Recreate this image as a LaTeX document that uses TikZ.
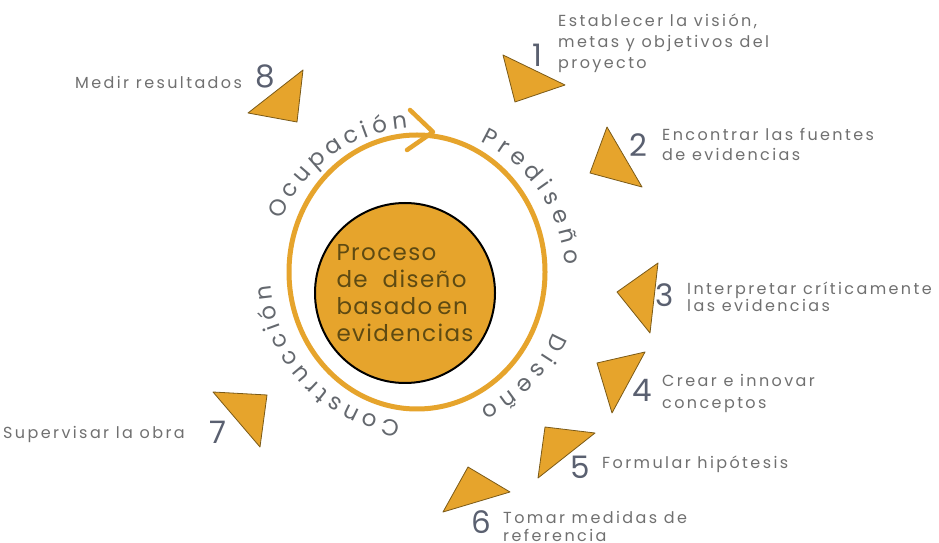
\documentclass[tikz,border=0pt]{standalone}
\usepackage{fontspec}
\setmainfont{Poppins}
\newfontfamily\labfont[LetterSpace=15]{Poppins}
\newfontfamily\ringfontfam{Poppins}
\newfontfamily\midfont[LetterSpace=6]{Poppins}
\usetikzlibrary{decorations.text}
\definecolor{gold}{HTML}{E6A42C}
\definecolor{goldedge}{HTML}{7A5A18}
\definecolor{labgrey}{HTML}{707070}
\definecolor{numgrey}{HTML}{5A6070}
\definecolor{midtext}{HTML}{5E4A12}
\definecolor{ringtext}{HTML}{64686E}
\tikzset{
  tri/.style={fill=gold, draw=goldedge, line width=0.8pt, line join=round},
  num/.style={text=numgrey, font=\fontsize{31}{31}\selectfont, inner sep=0pt},
  lab/.style={text=labgrey, font=\labfont\fontsize{16}{20}\selectfont, inner sep=0pt, anchor=north west, align=left},
  ringlab/.style={decorate, decoration={text along path, text align={fit to path}}},
}
\newcommand{\ringfmt}{\ringfontfam\fontsize{23}{23}\selectfont\color{ringtext}}
\begin{document}
\begin{tikzpicture}[x=1pt,y=1pt]
\useasboundingbox[fill=white] (0,0) rectangle (939,543);
% ring
\draw[gold, line width=5pt] (417,271) ellipse [x radius=128, y radius=137];
\draw[gold, line width=4.5pt, line cap=round, line join=round] (410,433) -- (433,411) -- (407,393);
% centre
\node[circle, minimum size=180pt, fill=gold, draw=black, line width=2pt, align=left, text=midtext,
      font=\midfont\fontsize{23}{27}\selectfont, inner sep=0pt] (centre) at (405,250)
  {Proceso\\\makebox[130pt][s]{de diseño}\\\makebox[130pt][s]{basado en}\\evidencias};
% ring labels
\path[ringlab, decoration={text={|\ringfmt|Ocupación}}]
  (418,268) ++(158:147) arc[start angle=158, end angle=94, radius=147];
\path[ringlab, decoration={text={|\ringfmt|Prediseño}}]
  (418,268) ++(65:147) arc[start angle=65, end angle=4, radius=147];
\path[ringlab, decoration={text={|\ringfmt|Diseño}}]
  (418,268) ++(-23:147) arc[start angle=-23, end angle=-65, radius=147];
\path[ringlab, decoration={text={|\ringfmt|Construcción}}]
  (418,268) ++(263:147) arc[start angle=263, end angle=184, radius=147];
% triangles
\draw[tri] (503,488) -- (565,458) -- (515,441) -- cycle;
\draw[tri] (607,416) -- (642,356) -- (590,370) -- cycle;
\draw[tri] (658,280) -- (650,210) -- (617,251) -- cycle;
\draw[tri] (645,191) -- (597,180) -- (612,130) -- cycle;
\draw[tri] (545,116) -- (595,110) -- (538,65) -- cycle;
\draw[tri] (468,76) -- (510,51) -- (443,31) -- cycle;
\draw[tri] (213,151) -- (267,148) -- (260,96) -- cycle;
\draw[tri] (303,473) -- (297,421) -- (248,430) -- cycle;
% numbers
\node[num] (n1) at (537,488) {1};
\node[num] (n2) at (638,398) {2};
\node[num] (n3) at (665,248) {3};
\node[num] (n4) at (642,153) {4};
\node[num] (n5) at (580,76) {5};
\node[num] (n6) at (481,21) {6};
\node[num] (n7) at (218,111) {7};
\node[num] (n8) at (265,467) {8};
% labels
\node[lab, font=\labfont\fontsize{16}{21}\selectfont] (l1) at (558,529) {Establecer la visión,\\metas y objetivos del\\proyecto};
\node[lab, font=\labfont\fontsize{16}{20}\selectfont] (l2) at (662,415) {Encontrar las fuentes\\de evidencias};
\node[lab, font=\labfont\fontsize{16}{17}\selectfont] (l3) at (687,261) {Interpretar críticamente\\las evidencias};
\node[lab, font=\labfont\fontsize{16}{22}\selectfont] (l4) at (662,169) {Crear e innovar\\conceptos};
\node[lab] (l5) at (602,87) {Formular hipótesis};
\node[lab, font=\labfont\fontsize{16}{18}\selectfont] (l6) at (503,32) {Tomar medidas de\\referencia};
\node[lab] (l7) at (3,117) {Supervisar la obra};
\node[lab] (l8) at (75,467) {Medir resultados};
\end{tikzpicture}
\end{document}
